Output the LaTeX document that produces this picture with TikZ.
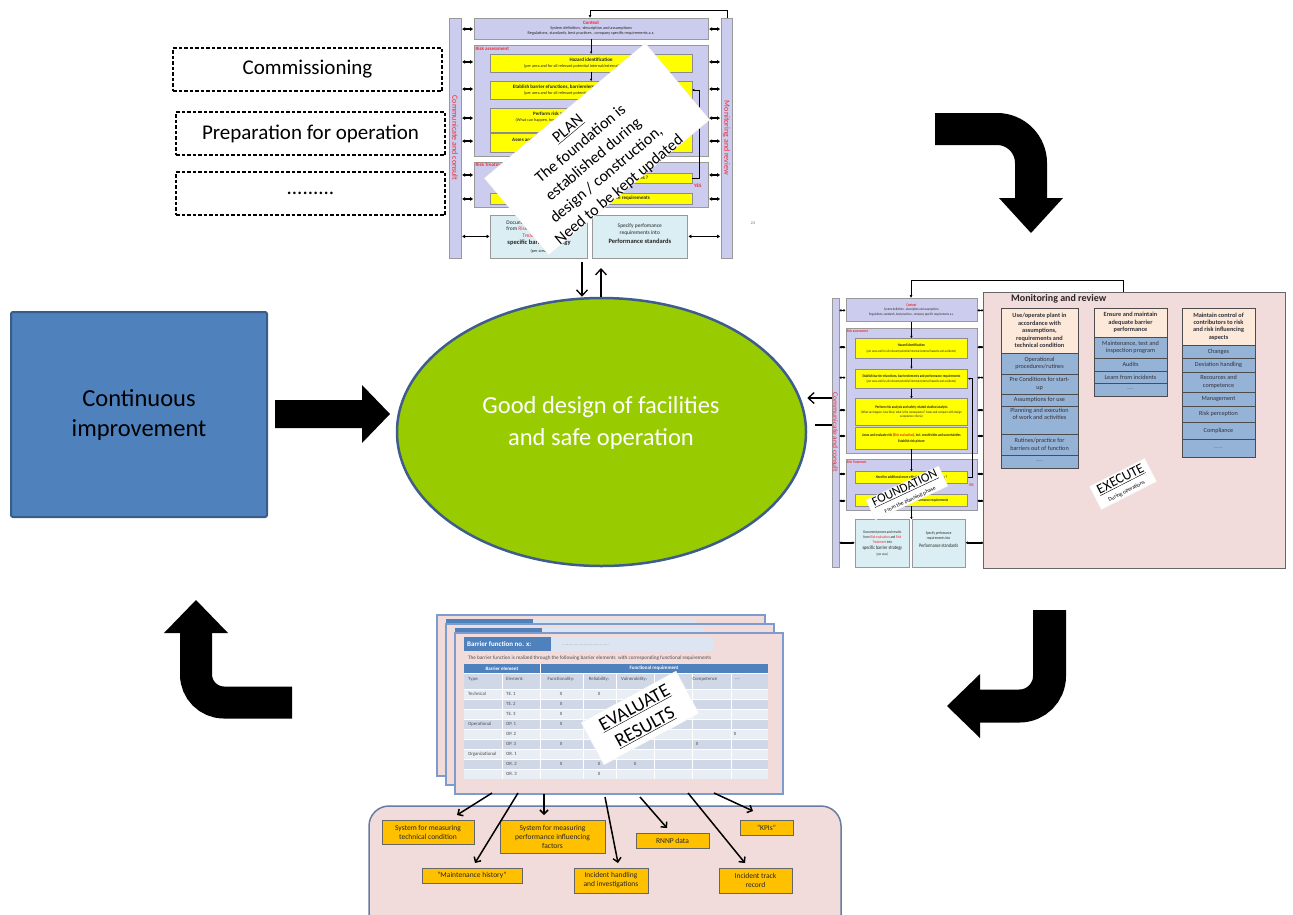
\documentclass[tikz,border=0pt]{standalone}
\usepackage{fontspec}
\setmainfont{Carlito}
\newfontfamily\condfont[FakeStretch=0.8]{Carlito}
\usetikzlibrary{arrows.meta,shapes.geometric,calc}

\definecolor{lav}{RGB}{204,204,238}
\definecolor{framered}{RGB}{235,45,45}
\definecolor{ylw}{RGB}{255,255,0}
\definecolor{paleblue}{RGB}{218,238,243}
\definecolor{pinkbg}{RGB}{242,220,219}
\definecolor{peach}{RGB}{253,233,217}
\definecolor{itemblue}{RGB}{149,179,215}
\definecolor{orng}{RGB}{255,192,0}
\definecolor{grn}{RGB}{153,204,0}
\definecolor{ellborder}{RGB}{62,92,140}
\definecolor{cibox}{RGB}{79,129,189}
\definecolor{ciborder}{RGB}{56,93,138}
\definecolor{sheetborder}{RGB}{125,155,205}
\definecolor{tabhead}{RGB}{79,129,189}
\definecolor{rowdark}{RGB}{208,216,232}
\definecolor{rowlight}{RGB}{233,237,244}
\definecolor{barlight}{RGB}{220,230,242}
\definecolor{celltext}{RGB}{50,50,60}

% risk management framework in a unit box (u across, v down); #1 = name prefix
\newcommand\riskframe[1]{%
  \draw[framebar] (0,0) rectangle (0.045,1);
  \node[sidelabel] (#1-cc) at (0.0225,0.5) {Communicate and consult};
  \draw[framebox] (0.092,0) rectangle (0.953,0.088);
  \node[frtext] (#1-ctx) at (0.5225,0.044) {{\frtitle\color{framered}Context}\\System definition, -description and assumptions\\Regulations, standards, best practices , company specific requirements a.s.};
  \draw[framebox] (0.092,0.113) rectangle (0.953,0.576);
  \node[frtext,anchor=north west] (#1-ra) at (0.097,0.118) {\frtitle\color{framered}Risk assessment};
  \draw[yelbox] (0.152,0.15) rectangle (0.893,0.224);
  \node[frtext] (#1-hi) at (0.5225,0.187) {{\frtitle Hazard identification}\\[1pt](per area and for all relevant potential internal/external hazards and accidents)};
  \draw[yelbox] (0.152,0.264) rectangle (0.893,0.337);
  \node[frtext] (#1-eb) at (0.5225,0.3005) {{\frtitle Etablish barrier efunctions, barrierelements and performance requirements}\\[1pt](per area and for all relevant potential internal/external hazards and accidents)};
  \draw[yelbox] (0.152,0.374) rectangle (0.893,0.474);
  \node[frtext] (#1-pr) at (0.5225,0.424) {{\frtitle Perform risk analysis and safety related studies/analysis}\\[1pt](What can happen, how likely, what is the consequence? Asses and compare with design\\acceptance criteria)};
  \draw[yelbox] (0.152,0.481) rectangle (0.893,0.561);
  \node[frtext] (#1-ae) at (0.5225,0.521) {{\frtitle Asses and evaluate risk (\textcolor{framered}{Risk evaluation}), incl. sensitivities and uncertainties}\\[1.5pt]{\frtitle Establish risk picture}};
  \draw[framebox] (0.092,0.6) rectangle (0.953,0.79);
  \node[frtext,anchor=north west] (#1-rt) at (0.097,0.605) {\frtitle\color{framered}Risk Treatment};
  \draw[yelbox] (0.152,0.645) rectangle (0.893,0.688);
  \node[frtext] (#1-nd) at (0.5225,0.6665) {\frtitle Need for additional more effective barriers/measures ?};
  \node[frtext,anchor=north west] (#1-yes) at (0.9,0.69) {\frtitle\color{framered}YES};
  \draw[yelbox] (0.152,0.73) rectangle (0.893,0.775);
  \node[frtext] (#1-es) at (0.5225,0.7525) {\frtitle Establish barrier strategy and performance requirements};
  \draw[docbox] (0.152,0.823) rectangle (0.51,1);
  \node[frtext,font=\frdoc] (#1-d1) at (0.331,0.9115) {Document proces and results\\from \textcolor{framered}{Risk evaluation} and \textcolor{framered}{Risk}\\\textcolor{framered}{Treatment} into\\[1pt]{\frbig specific barrier strategy}\\[1pt]{\frsmall (per area)}};
  \draw[docbox] (0.526,0.823) rectangle (0.877,1);
  \node[frtext,font=\frdoc] (#1-d2) at (0.7015,0.9) {Specify perfomance\\requirements into\\[3pt]{\frbig Performance standards}};
  \draw[flow] (0.5225,0.088) -- (0.5225,0.15);
  \draw[flow] (0.5225,0.224) -- (0.5225,0.264);
  \draw[flow] (0.5225,0.337) -- (0.5225,0.374);
  \draw[flow] (0.5225,0.561) -- (0.5225,0.645);
  \draw[flow] (0.5225,0.688) -- (0.5225,0.73);
  \draw[flow] (0.5225,0.775) -- (0.5225,0.823);
  \draw[flow] (0.893,0.6665) -- (0.922,0.6665) -- (0.922,0.3) -- (0.893,0.3);
  \foreach \vv in {0.046,0.183,0.296,0.417,0.513,0.654,0.754}{
    \draw[link] (0.048,\vv) -- (0.089,\vv);
    \draw[link] (0.956,\vv) -- (0.997,\vv);
  }
  \draw[link] (0.048,0.91) -- (0.149,0.91);
  \draw[link] (0.88,0.91) -- (0.997,0.91);
}

% filled cell given by its corners: style, name, x1, y1, x2, y2, text
\newcommand\cellbox[7]{%
  \node[#1,minimum width={(#5-#3)*1pt},minimum height={(#6-#4)*1pt}] (#2) at ({(#3+#5)/2},{(#4+#6)/2}) {#7};}

% one barrier-function sheet: name, x, y
\newcommand\evalsheet[3]{%
  \node[sheet] (#1) at (#2,#3) {};
  \node[sheethead] (#1-h) at ($(#1.north west)+(9,4)$) {};
  \node[headtext] (#1-t) at ($(#1-h.west)+(3,0)$) {Barrier function no. x:};
  \node[sheetbar] (#1-b) at ($(#1.north west)+(97,4)$) {};
  \node[dotstext] (#1-d) at ($(#1-b.west)+(10,1)$) {.....................................};
}

\begin{document}
\begin{tikzpicture}[x=1pt,y=-1pt,
  phasebox/.style={draw=black,dash pattern=on 3.5pt off 2pt,line width=1.1pt,inner sep=0pt,font=\fontsize{21}{24}\selectfont},
  framebar/.style={fill=lav,draw=black!40,line width=0.5pt},
  framebox/.style={fill=lav,draw=black!40,line width=0.5pt},
  yelbox/.style={fill=ylw,draw=black!45,line width=0.5pt},
  docbox/.style={fill=paleblue,draw=black!40,line width=0.5pt},
  frtext/.style={align=center,inner sep=0pt,font=\frsmall,text=black!85},
  sidelabel/.style={rotate=-90,text=framered,inner sep=0pt,font=\frside},
  flow/.style={-{Latex[length=2.5pt,width=2.5pt]},line width=0.6pt},
  card/.style={fill=white,draw=black!6,align=center,inner sep=0pt,outer sep=0pt},
  thinarrow/.style={-{Straight Barb[length=6pt,width=11pt]},line width=1.3pt},
  srcarrow/.style={-{Straight Barb[length=4pt,width=8pt]},line width=1.5pt},
  hdrcell/.style={fill=peach,draw=black!70,line width=0.8pt,align=center,inner sep=0pt,outer sep=0pt,text=celltext,font=\fontsize{6.3}{7.4}\selectfont\bfseries},
  itemcell/.style={fill=itemblue,draw=black!70,line width=0.8pt,align=center,inner sep=0pt,outer sep=0pt,text=celltext,font=\fontsize{6.2}{7.4}\selectfont},
  sheet/.style={fill=pinkbg,draw=sheetborder,line width=1.4pt,inner sep=0pt,outer sep=0pt,minimum width=328pt,minimum height=161pt,anchor=north west},
  sheethead/.style={fill=tabhead,inner sep=0pt,outer sep=0pt,minimum width=87pt,minimum height=14pt,anchor=north west},
  sheetbar/.style={fill=barlight,inner sep=0pt,outer sep=0pt,minimum width=161pt,minimum height=14pt,anchor=north west},
  dotstext/.style={text=black!40,font=\fontsize{5}{5}\selectfont,inner sep=0pt,anchor=west},
  headtext/.style={text=white,font=\fontsize{7}{8}\selectfont\bfseries,inner sep=0pt,anchor=west},
  tabtxt/.style={font=\fontsize{4.8}{5.5}\selectfont,text=black!70,inner sep=0pt},
  srcbox/.style={fill=orng,draw=black!60,line width=0.8pt,align=center,inner sep=0pt,outer sep=0pt,text=black!85,font=\fontsize{7.5}{9}\selectfont}
]
\useasboundingbox (0,0) rectangle (1293,914);
\clip (0,0) rectangle (1293,914);

% ---------- project phases ----------
\node[phasebox,minimum width=269pt,minimum height=43pt] (comm) at (307.5,69.5) {Commissioning};
\node[phasebox,minimum width=269pt,minimum height=43pt] (prep) at (310.5,133.5) {Preparation for operation};
\node[phasebox,minimum width=269pt,minimum height=43pt] (more) at (310.5,193.5) {.........};

% ---------- PLAN: framework ----------
\def\frsmall{\fontsize{4.2}{5}\selectfont}
\def\frtitle{\fontsize{5}{6}\selectfont\bfseries}
\def\frdoc{\fontsize{5.5}{6.6}\selectfont}
\def\frbig{\fontsize{6.5}{8}\selectfont\bfseries}
\def\frside{\fontsize{8}{9}\selectfont}
\tikzset{link/.style={{Latex[length=3pt,width=4pt]}-{Latex[length=3pt,width=4pt]},line width=1.8pt}}
\draw[line width=0.8pt,-{Latex[length=3pt,width=3pt]}] (727,18) -- (727,10) -- (590,10) -- (590,18);
\begin{scope}[shift={(449,18)},x=272pt,y=-240pt]
  \riskframe{p}
  \draw[framebar] (1.0,0) rectangle (1.04,1);
  \node[sidelabel] (p-mr) at (1.02,0.5) {Monitoring and review};
\end{scope}
\node[font=\fontsize{4}{4}\selectfont,text=black!60,inner sep=0pt] (pagenum) at (753,223) {23};

\node[card,rotate=40,minimum width=210pt,minimum height=100pt] (plancard) at (597,149) {};
\node[rotate=40,align=center,inner sep=0pt,font=\fontsize{16}{20}\selectfont] (plantxt) at (594,160) {\underline{PLAN}\\The foundation is\\established during\\design / construction,\\Need to be kept updated};

% ---------- central goal ----------
\node[ellipse,fill=grn,draw=ellborder,line width=2.5pt,minimum width=409pt,minimum height=268pt,inner sep=0pt] (goal) at (601.5,432) {};
\node[align=center,text=white,inner sep=0pt,font=\fontsize{24.5}{32}\selectfont] (goaltxt) at (601,423) {Good design of facilities\\and safe operation};

\coordinate (pdn) at (582,262);
\coordinate (pup) at (601,268);
\draw[thinarrow] (pdn) -- (pdn |- goal.north);
\draw[thinarrow] (pup |- goal.north) -- (pup);

% ---------- continuous improvement ----------
\node[fill=cibox,draw=ciborder,line width=2pt,rounded corners=2pt,minimum width=256pt,minimum height=205pt,align=center,font=\fontsize{24.5}{30}\selectfont] (ci) at (139,414.5) {Continuous\\improvement};
\fill (275,400) -- (362,400) -- (362,385) -- (390,414) -- (362,443) -- (362,428) -- (275,428) -- cycle;

% ---------- cycle arrows ----------
\draw[line width=32pt,rounded corners=34pt] (935,129) -- (1031,129) -- (1031,199);
\fill (999,198) -- (1063,198) -- (1031,233) -- cycle;
\draw[line width=33pt,rounded corners=30pt] (1049.5,610) -- (1049.5,706) -- (978,706);
\fill (980,674) -- (980,738) -- (947,706) -- cycle;
\draw[line width=32pt,rounded corners=28pt] (292,702.5) -- (196,702.5) -- (196,631);
\fill (164,633) -- (228,633) -- (196,600) -- cycle;

% ---------- FOUNDATION: framework ----------
\def\frsmall{\condfont\fontsize{3.5}{4.3}\selectfont}
\def\frtitle{\condfont\fontsize{3.9}{4.8}\selectfont\bfseries}
\def\frdoc{\condfont\fontsize{4}{5}\selectfont}
\def\frbig{\condfont\fontsize{5.2}{6.5}\selectfont}
\def\frside{\fontsize{7.5}{8}\selectfont}
\tikzset{link/.style={{Latex[length=2pt,width=3pt]}-{Latex[length=2pt,width=3pt]},line width=1.5pt}}
\draw[line width=0.8pt,-{Latex[length=3pt,width=3pt]}] (1123,292) -- (1123,280) -- (911,280) -- (911,298);
\begin{scope}[shift={(832,298)},x=152pt,y=-269pt]
  \riskframe{f}
\end{scope}
\coordinate (fa) at (832,398);
\draw[thinarrow] (fa) -- (fa -| goal.east);
\coordinate (fb1) at (815,425);
\coordinate (fb2) at (832,425);
\draw[line width=2.2pt] (fb1) -- (fb2);

% ---------- EXECUTE ----------
\node[fill=pinkbg,draw=black!60,line width=0.8pt,minimum width=302pt,minimum height=276pt,anchor=north west,inner sep=0pt,outer sep=0pt] (exec) at (983,292) {};
\node[font=\fontsize{10}{12}\selectfont\bfseries,anchor=west,inner sep=0pt,text=black!85] (monrev) at (1011,299) {Monitoring and review};

\cellbox{hdrcell}{c1h}{1001}{308}{1078}{353}{Use/operate plant in\\accordance with\\assumptions,\\requirements and\\technical condition}
\cellbox{itemcell}{c1a}{1001}{353}{1078}{374}{Operational\\procedures/rutines}
\cellbox{itemcell}{c1b}{1001}{374}{1078}{394}{Pre Conditions for start-\\up}
\cellbox{itemcell}{c1c}{1001}{394}{1078}{406}{Assumptions for use}
\cellbox{itemcell}{c1d}{1001}{406}{1078}{434}{Planning and execution\\of work and activities\\[5pt]}
\cellbox{itemcell}{c1e}{1001}{434}{1078}{455}{Rutines/practice for\\barriers out of function}
\cellbox{itemcell}{c1f}{1001}{455}{1078}{468}{{\fontsize{4}{4}\selectfont .......}}

\cellbox{hdrcell}{c2h}{1094}{308}{1167}{337}{Ensure and maintain\\adequate barrier\\performance}
\cellbox{itemcell}{c2a}{1094}{337}{1167}{358}{Maintenance, test and\\inspection program}
\cellbox{itemcell}{c2b}{1094}{358}{1167}{371}{Audits}
\cellbox{itemcell}{c2c}{1094}{371}{1167}{383}{Learn from incidents}
\cellbox{itemcell}{c2d}{1094}{383}{1167}{396}{{\fontsize{4}{4}\selectfont ......}}

\cellbox{hdrcell}{c3h}{1182}{308}{1255}{345}{Maintain control of\\contributors to risk\\and risk influencing\\aspects}
\cellbox{itemcell}{c3a}{1182}{345}{1255}{358}{Changes}
\cellbox{itemcell}{c3b}{1182}{358}{1255}{372}{Deviation handling}
\cellbox{itemcell}{c3c}{1182}{372}{1255}{392}{Recources and\\competence}
\cellbox{itemcell}{c3d}{1182}{392}{1255}{406}{Management}
\cellbox{itemcell}{c3e}{1182}{406}{1255}{422}{Risk perception}
\cellbox{itemcell}{c3f}{1182}{422}{1255}{439}{Compliance}
\cellbox{itemcell}{c3g}{1182}{439}{1255}{457}{{\fontsize{4}{4}\selectfont ........}}

\node[card,rotate=25,minimum width=80pt,minimum height=22pt] (fcard) at (907,493) {{\fontsize{12.7}{13}\selectfont\underline{FOUNDATION}}\\[-1pt]{\fontsize{5.5}{6}\selectfont From the planning phase}};
\node[card,rotate=27,minimum width=62pt,minimum height=26pt] (ecard) at (1123,484) {{\fontsize{14}{14}\selectfont\underline{EXECUTE}}\\[-1pt]{\fontsize{5.5}{6}\selectfont During operations}};

% ---------- EVALUATE: barrier function sheets ----------
\evalsheet{sh1}{437}{615}
\evalsheet{sh2}{446}{624}
\evalsheet{sh3}{455}{633}
\node[tabtxt,anchor=west,font=\fontsize{5.2}{6}\selectfont] (intro) at (468,658) {The barrier function is realized through the following barrier elements\ \ with corresponding functional requirements};

\fill[tabhead] (464,664) rectangle (768,673);
\fill[rowdark] (464,673) rectangle (768,689);
\foreach \r in {0,...,8}{
  \pgfmathsetmacro\ytop{689+10*\r}
  \ifodd\r \def\rc{rowdark}\else\def\rc{rowlight}\fi
  \fill[\rc] (464,\ytop) rectangle (768,{\ytop+10});
}
\foreach \xx in {502,583,616,654,692,731} \draw[white,line width=0.6pt] (\xx,673) -- (\xx,779);
\draw[white,line width=0.6pt] (540,664) -- (540,779);
\foreach \yy in {673,689,699,...,769} \draw[white,line width=0.6pt] (464,\yy) -- (768,\yy);

\node[tabtxt,text=white,font=\fontsize{5}{6}\selectfont\bfseries] (th1) at (502,668.5) {Barrier element};
\node[tabtxt,text=white,font=\fontsize{5}{6}\selectfont\bfseries] (th2) at (654,668.5) {Functional requirement};
\node[tabtxt,anchor=west] (tc1) at (468,679) {Type:};
\node[tabtxt,anchor=west] (tc2) at (506,679) {Element:};
\node[tabtxt] (tc3) at (561,679) {Functionality:};
\node[tabtxt] (tc4) at (599,679) {Reliability:};
\node[tabtxt,anchor=west] (tc5) at (621,679) {Vulnerability:};
\node[tabtxt] (tc7) at (705,679) {Competence};
\node[tabtxt,anchor=west] (tc8) at (735,679) {....};
\node[tabtxt,anchor=west] (ty1) at (468,694) {Technical};
\node[tabtxt,anchor=west] (ty2) at (468,724) {Operational};
\node[tabtxt,anchor=west] (ty3) at (468,754) {Organizational};
\foreach \nm/\yy/\tx in {e1/694/TE. 1,e2/704/TE. 2,e3/714/TE. 3,e4/724/OP. 1,e5/734/OP. 2,e6/744/OP. 3,e7/754/OR. 1,e8/764/OR. 2,e9/774/OR. 3}
  \node[tabtxt,anchor=west] (\nm) at (506,\yy) {\tx};
\foreach \nm/\xx/\yy in {x1/561/694,x2/599/694,x3/561/704,x4/561/714,x5/561/724,x6/735/734,x7/561/744,x8/697/744,x9/599/754,x10/561/764,x11/599/764,x12/635/764,x13/599/774}
  \node[tabtxt] (\nm) at (\xx,\yy) {X};

\node[card,rotate=28.5,minimum width=108pt,minimum height=48pt,font=\fontsize{19}{22}\selectfont] (vcard) at (640,718) {\underline{EVALUATE}\\\underline{RESULTS}};

% ---------- data sources ----------
\node[fill=pinkbg,draw=ellborder!80,line width=1.5pt,rounded corners=20pt,minimum width=472pt,minimum height=140pt,anchor=north west,inner sep=0pt,outer sep=0pt] (sources) at (369,806) {};
\node[srcbox,minimum width=92pt,minimum height=24pt] (tc) at (428,832) {System for measuring\\technical condition};
\node[srcbox,minimum width=105pt,minimum height=33pt] (pif) at (552.5,836.5) {System for measuring\\performance influencing\\factors};
\node[srcbox,minimum width=73pt,minimum height=15pt] (rnnp) at (672.5,840.5) {RNNP data};
\node[srcbox,minimum width=53pt,minimum height=15pt] (kpi) at (766.5,827.5) {“KPIs”};
\node[srcbox,minimum width=100pt,minimum height=15pt] (mh) at (472,875.5) {“Maintenance history”};
\node[srcbox,minimum width=74pt,minimum height=25pt] (ih) at (611,880.5) {Incident handling\\and investigations};
\node[srcbox,minimum width=73pt,minimum height=25pt] (itr) at (755.5,880.5) {Incident track\\record};

\coordinate (s1) at (492,793);
\coordinate (s2) at (518,793);
\coordinate (s3) at (544,794);
\coordinate (s4) at (605,797);
\coordinate (s5) at (640,797);
\coordinate (s6) at (688,793);
\coordinate (s7) at (714,793);
\draw[srcarrow] (s1) -- ($(tc.north)+(29,-5)$);
\draw[srcarrow] (s2) -- ($(mh.north)+(3,-5)$);
\draw[srcarrow] (s3) -- ($(s3 |- pif.north)+(0,-5)$);
\draw[srcarrow] (s4) -- ($(ih.north)+(7,-5)$);
\draw[srcarrow] (s5) -- ($(rnnp.north)+(-5.5,-5)$);
\draw[srcarrow] (s6) -- ($(itr.north)+(-10.5,-5)$);
\draw[srcarrow] (s7) -- ($(kpi.north)+(-13.5,-9)$);
\end{tikzpicture}
\end{document}
